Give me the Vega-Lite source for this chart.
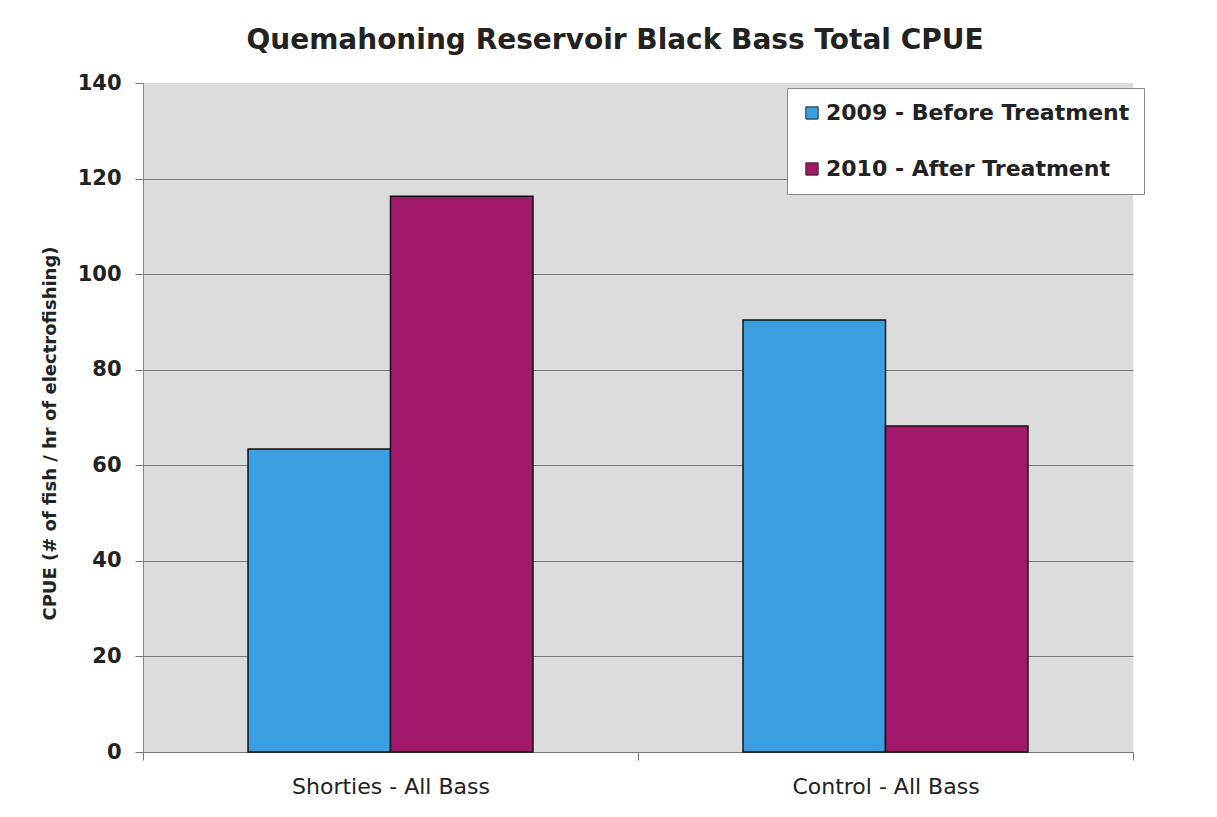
{
  "$schema": "https://vega.github.io/schema/vega-lite/v6.json",
  "autosize": {"type": "none"},
  "width": 990,
  "height": 669,
  "padding": {"left": 143, "top": 83, "right": 84, "bottom": 65},
  "background": "white",
  "title": {
    "text": "Quemahoning Reservoir Black Bass Total CPUE",
    "font": "DejaVu Sans",
    "fontSize": 28,
    "fontWeight": "bold",
    "color": "#222222",
    "anchor": "middle",
    "dx": -23,
    "offset": 17
  },
  "data": {
    "values": [
      {"site": "Shorties - All Bass", "series": "2009 - Before Treatment", "cpue": 63.4},
      {"site": "Shorties - All Bass", "series": "2010 - After Treatment", "cpue": 116.3},
      {"site": "Control - All Bass", "series": "2009 - Before Treatment", "cpue": 90.4},
      {"site": "Control - All Bass", "series": "2010 - After Treatment", "cpue": 68.2}
    ]
  },
  "mark": {"type": "bar", "stroke": "#111111", "strokeWidth": 1.5},
  "encoding": {
    "x": {
      "field": "site",
      "type": "nominal",
      "sort": ["Shorties - All Bass", "Control - All Bass"],
      "scale": {"paddingInner": 0, "paddingOuter": 0},
      "axis": {
        "title": null,
        "labelAngle": 0,
        "labelFont": "DejaVu Sans",
        "labelFontSize": 22,
        "labelColor": "#222222",
        "labelLimit": 500,
        "labelPadding": 16,
        "tickSize": 8,
        "tickColor": "#777777",
        "tickBand": "extent",
        "domainColor": "#777777",
        "grid": false
      }
    },
    "xOffset": {
      "field": "series",
      "type": "nominal",
      "sort": ["2009 - Before Treatment", "2010 - After Treatment"],
      "scale": {"paddingInner": 0, "paddingOuter": 0.737}
    },
    "y": {
      "field": "cpue",
      "type": "quantitative",
      "scale": {"domain": [0, 140], "nice": false},
      "axis": {
        "title": "CPUE (# of fish / hr of electrofishing)",
        "titleFont": "DejaVu Sans",
        "titleFontSize": 18,
        "titleFontWeight": "bold",
        "titleColor": "#222222",
        "titlePadding": 18,
        "titleY": 350,
        "values": [0, 20, 40, 60, 80, 100, 120, 140],
        "labelFont": "DejaVu Sans",
        "labelFontSize": 21,
        "labelFontWeight": "bold",
        "labelColor": "#222222",
        "labelPadding": 14,
        "tickSize": 8,
        "tickColor": "#777777",
        "domainColor": "#6f8f9c",
        "grid": true,
        "gridColor": {"condition": {"test": "datum.value === 140 || datum.value === 0", "value": "transparent"}, "value": "#7a7a7a"},
        "gridWidth": 1.2
      }
    },
    "color": {
      "field": "series",
      "type": "nominal",
      "sort": ["2009 - Before Treatment", "2010 - After Treatment"],
      "scale": {"range": ["#3b9fe2", "#a2186b"]},
      "legend": {
        "title": null,
        "orient": "none",
        "legendX": 644,
        "legendY": 5,
        "direction": "vertical",
        "fillColor": "white",
        "strokeColor": "#888888",
        "padding": 14,
        "symbolType": "square",
        "symbolSize": 150,
        "symbolStrokeColor": "#222222",
        "symbolStrokeWidth": 1,
        "labelFont": "DejaVu Sans",
        "labelFontSize": 22,
        "labelFontWeight": "bold",
        "labelColor": "#222222",
        "labelLimit": 400,
        "labelOffset": 3,
        "rowPadding": 34
      }
    }
  },
  "config": {
    "view": {"fill": "#dcdcdc", "stroke": null}
  }
}
